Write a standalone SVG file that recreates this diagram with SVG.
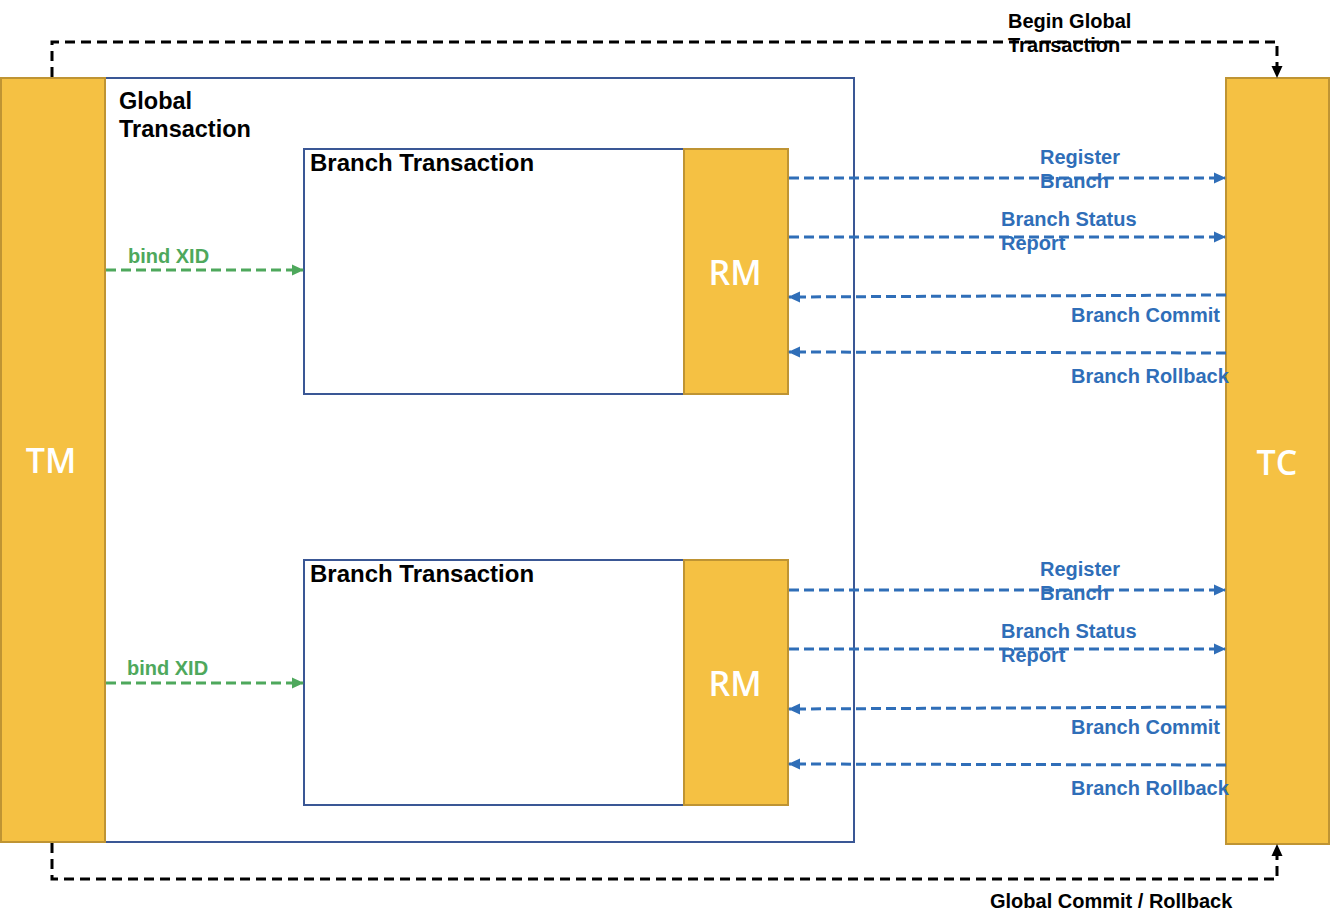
<svg xmlns="http://www.w3.org/2000/svg" width="1330" height="924" viewBox="0 0 1330 924">
<style>
.y{fill:#F5C143;stroke:#BF9433;stroke-width:2}
.box{fill:#fff;stroke:#3A5795;stroke-width:2}
.big{font-family:"Open Sans","Liberation Sans",sans-serif;font-size:34px;font-weight:600;fill:#fff;text-anchor:middle}
.t{font-family:"Liberation Sans",Arial,sans-serif;font-weight:bold;font-size:23.5px;fill:#000}
.t2{font-family:"Liberation Sans",Arial,sans-serif;font-weight:bold;font-size:24px;fill:#000}
.k{font-family:"Liberation Sans",Arial,sans-serif;font-weight:bold;font-size:20px;fill:#000}
.b{font-family:"Liberation Sans",Arial,sans-serif;font-weight:bold;font-size:20px;fill:#2F6EB8}
.g{font-family:"Liberation Sans",Arial,sans-serif;font-weight:bold;font-size:20px;fill:#4EA85C}
.lb{fill:none;stroke:#2F6EB8;stroke-width:3;stroke-dasharray:10 5}
.lg{fill:none;stroke:#4EA85C;stroke-width:3;stroke-dasharray:10 5}
.lk{fill:none;stroke:#000;stroke-width:3;stroke-dasharray:10 6}
</style>
<defs>
<marker id="ab" markerWidth="12" markerHeight="12" refX="11" refY="6" orient="auto" markerUnits="userSpaceOnUse"><path d="M0,0.5 L12,6 L0,11.5 Z" fill="#2F6EB8"/></marker>
<marker id="ag" markerWidth="12" markerHeight="12" refX="11" refY="6" orient="auto" markerUnits="userSpaceOnUse"><path d="M0,0.5 L12,6 L0,11.5 Z" fill="#4EA85C"/></marker>
<marker id="ak" markerWidth="12" markerHeight="12" refX="11" refY="6" orient="auto" markerUnits="userSpaceOnUse"><path d="M0,0.5 L12,6 L0,11.5 Z" fill="#000"/></marker>
</defs>
<rect width="1330" height="924" fill="#fff"/>
<g id="global">
<rect class="box" x="105" y="78" width="749" height="764"/>
<text class="t" x="119" y="109">Global</text>
<text class="t" x="119" y="137">Transaction</text>
</g>
<g id="tm">
<rect class="y" x="1" y="78" width="104" height="764"/>
<text class="big" x="51" y="473">TM</text>
</g>
<g id="tc">
<rect class="y" x="1226" y="78" width="103" height="766"/>
<text class="big" x="1277" y="475">TC</text>
</g>
<g id="branch1">
<rect class="box" x="304" y="149" width="380" height="245"/>
<text class="t2" x="310" y="171">Branch Transaction</text>
</g>
<g id="rm1">
<rect class="y" x="684" y="149" width="104" height="245"/>
<text class="big" x="735" y="285">RM</text>
</g>
<g id="branch2">
<rect class="box" x="304" y="560" width="380" height="245"/>
<text class="t2" x="310" y="582">Branch Transaction</text>
</g>
<g id="rm2">
<rect class="y" x="684" y="560" width="104" height="245"/>
<text class="big" x="735" y="696">RM</text>
</g>
<g id="connectors">
<path class="lk" d="M52,77 V42 H1277 V77" marker-end="url(#ak)"/>
<path class="lk" d="M52,843 V879 H1277 V845" marker-end="url(#ak)"/>
<path class="lg" d="M106,270 H303" marker-end="url(#ag)"/>
<path class="lg" d="M106,683 H303" marker-end="url(#ag)"/>
<path class="lb" d="M789,178 H1225" marker-end="url(#ab)"/>
<path class="lb" d="M789,237 H1225" marker-end="url(#ab)"/>
<path class="lb" d="M1226,295 L789,297" marker-end="url(#ab)"/>
<path class="lb" d="M1226,353 L789,352" marker-end="url(#ab)"/>
<path class="lb" d="M789,590 H1225" marker-end="url(#ab)"/>
<path class="lb" d="M789,649 H1225" marker-end="url(#ab)"/>
<path class="lb" d="M1226,707 L789,709" marker-end="url(#ab)"/>
<path class="lb" d="M1226,765 L789,764" marker-end="url(#ab)"/>
<text class="k" x="1008" y="28">Begin Global</text>
<text class="k" x="1008" y="52">Transaction</text>
<text class="k" x="990" y="908">Global Commit / Rollback</text>
<text class="g" x="128" y="263">bind XID</text>
<text class="g" x="127" y="675">bind XID</text>
<text class="b" x="1040" y="164">Register</text>
<text class="b" x="1040" y="188">Branch</text>
<text class="b" x="1001" y="226">Branch Status</text>
<text class="b" x="1001" y="250">Report</text>
<text class="b" x="1071" y="322">Branch Commit</text>
<text class="b" x="1071" y="383">Branch Rollback</text>
<text class="b" x="1040" y="576">Register</text>
<text class="b" x="1040" y="600">Branch</text>
<text class="b" x="1001" y="638">Branch Status</text>
<text class="b" x="1001" y="662">Report</text>
<text class="b" x="1071" y="734">Branch Commit</text>
<text class="b" x="1071" y="795">Branch Rollback</text>
</g>
</svg>
